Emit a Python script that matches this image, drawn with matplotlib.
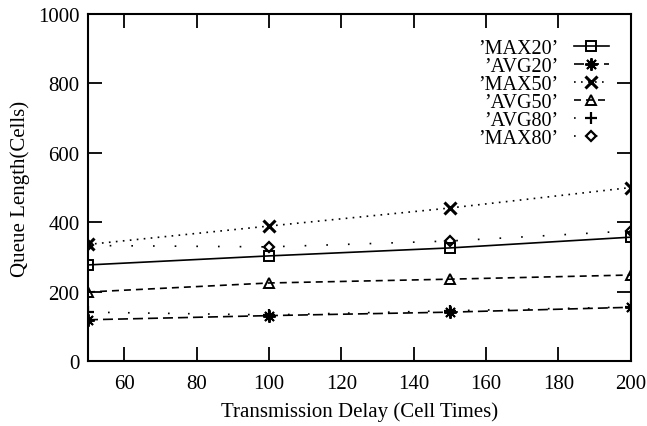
import matplotlib
matplotlib.use("Agg")
import matplotlib.pyplot as plt
from matplotlib.ticker import MultipleLocator

plt.rcParams['font.family'] = ['Liberation Serif', 'DejaVu Serif']

delay = [50, 100, 150, 200]
max20 = [277, 303, 326, 357]
avg20 = [119, 131, 141, 155]
max50 = [336, 389, 441, 500]
avg50 = [199, 225, 236, 248]
avg80 = [141, 133, 145, 156]
max80 = [333, 329, 346, 375]

labels = ["\u2019MAX20\u2019", "\u2019AVG20\u2019", "\u2019MAX50\u2019",
          "\u2019AVG50\u2019", "\u2019AVG80\u2019", "\u2019MAX80\u2019"]

fig = plt.figure(figsize=(6.47, 4.27), dpi=100)
ax = fig.add_axes([0.136, 0.152, 0.839, 0.813])

lw = 1.2
series = [
    (max20, dict(linestyle='-', marker='s', ms=7, mfc='none')),
    (avg20, dict(linestyle=(0, (6, 3)), marker=(8, 2, 0), ms=9)),
    (max50, dict(linestyle=(0, (1, 3.2)), marker='x', ms=8, mew=2.2)),
    (avg50, dict(linestyle=(0, (4.2, 3)), marker='^', ms=7, mfc='none')),
    (avg80, dict(linestyle=(0, (1, 11)), marker='+', ms=8, mew=1.6)),
    (max80, dict(linestyle=(0, (1, 12)), marker='D', ms=5.5, mfc='none', mew=1.6)),
]
for (vals, style), lab in zip(series, labels):
    kw = dict(color='black', lw=lw, mec='black', mew=1.4)
    kw.update(style)
    ax.plot(delay, vals, label=lab, **kw)

ax.set_xlim(50, 200)
ax.set_ylim(0, 1000)
ax.xaxis.set_major_locator(MultipleLocator(20))
ax.yaxis.set_major_locator(MultipleLocator(200))
ax.tick_params(direction='in', length=10, width=1.3, top=True, right=True,
               labelsize=15)
ax.tick_params(axis='x', pad=9)
ax.tick_params(axis='y', pad=6)
for s in ax.spines.values():
    s.set_linewidth(1.5)

ax.set_xlabel("Transmission Delay (Cell Times)", fontsize=15, labelpad=6)
ax.set_ylabel("Queue Length(Cells)", fontsize=15, labelpad=6)

leg = ax.legend(loc='upper right', bbox_to_anchor=(0.985, 0.97), frameon=False,
                markerfirst=False, fontsize=14.5, labelspacing=-0.05,
                handlelength=1.7, handletextpad=0.8, borderpad=0.2)
for t in leg.get_texts():
    t.set_ha('right')

fig.savefig("out.png", dpi=100)
